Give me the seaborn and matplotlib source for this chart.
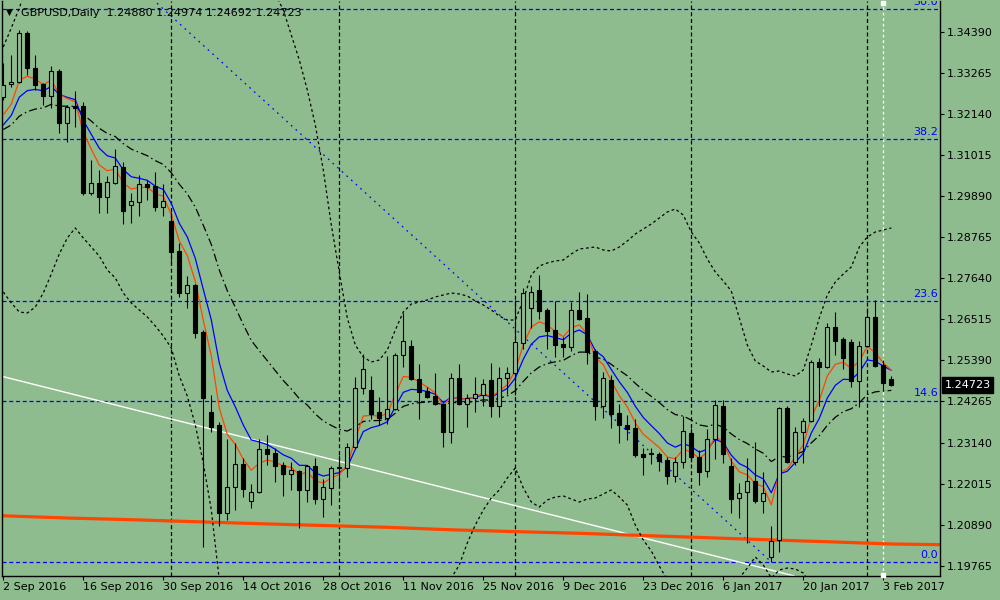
import numpy as np
import pandas as pd
import matplotlib
matplotlib.use("Agg")
import matplotlib.pyplot as plt
import seaborn as sns
from matplotlib.transforms import blended_transform_factory

# ---------------- data (GBPUSD daily, 2 Sep 2016 .. 6 Feb 2017) ----------------
opens = [1.32620, 1.32977, 1.33032, 1.34376, 1.33416, 1.32977, 1.32648, 1.33334, 1.31907, 1.32373,
         1.32373, 1.29986, 1.30261, 1.29876, 1.30261, 1.30700, 1.29657, 1.29739, 1.30233, 1.30178,
         1.29602, 1.29218, 1.28395, 1.27242, 1.27462, 1.26172, 1.23977, 1.23620, 1.21206, 1.21919,
         1.22550, 1.21535, 1.21782, 1.22962, 1.22852, 1.22523, 1.22276, 1.22358, 1.21837, 1.22495,
         1.21590, 1.21892, 1.22440, 1.22440, 1.23017, 1.24635, 1.24581, 1.23977, 1.23812, 1.24059,
         1.25541, 1.25788, 1.24882, 1.24553, 1.24416, 1.24196, 1.23428, 1.24910, 1.24196, 1.24361,
         1.24443, 1.24855, 1.24142, 1.24910, 1.25047, 1.25870, 1.26831, 1.27325, 1.26776, 1.26227,
         1.25843, 1.25760, 1.26776, 1.26556, 1.25651, 1.24142, 1.24855, 1.23950, 1.23620, 1.23538,
         1.22824, 1.22852, 1.22824, 1.22660, 1.22221, 1.22605, 1.23401, 1.22742, 1.22358, 1.23236,
         1.24142, 1.22495, 1.21617, 1.21782, 1.22084, 1.21535, 1.19998, 1.20465, 1.24087, 1.22605,
         1.23428, 1.23730, 1.25349, 1.25212, 1.26309, 1.25980, 1.25898, 1.24828, 1.25788, 1.26584,
         1.25267, 1.24880]
highs = [1.33553, 1.33773, 1.34459, 1.34431, 1.33773, 1.33005, 1.33471, 1.33389, 1.32401, 1.32785,
         1.32483, 1.30892, 1.30617, 1.30453, 1.31194, 1.30837, 1.29986, 1.30480, 1.30343, 1.30562,
         1.30233, 1.29465, 1.28614, 1.27709, 1.27489, 1.26227, 1.24443, 1.23703, 1.23236, 1.23126,
         1.22715, 1.22001, 1.23236, 1.23346, 1.22989, 1.22605, 1.22605, 1.22385, 1.22523, 1.22715,
         1.22139, 1.22495, 1.22797, 1.23126, 1.24937, 1.25568, 1.24965, 1.24389, 1.25514, 1.25596,
         1.26693, 1.25953, 1.25294, 1.24663, 1.25047, 1.24224, 1.25047, 1.25294, 1.24471, 1.24937,
         1.24882, 1.25321, 1.25212, 1.25212, 1.27050, 1.27379, 1.27434, 1.27736, 1.26831, 1.27023,
         1.26035, 1.26995, 1.27270, 1.27215, 1.25706, 1.25075, 1.24992, 1.24196, 1.23895, 1.23785,
         1.22989, 1.22989, 1.22879, 1.22742, 1.22742, 1.23867, 1.23538, 1.22934, 1.23511, 1.24306,
         1.24306, 1.22715, 1.22029, 1.22715, 1.23154, 1.22331, 1.20849, 1.24114, 1.24142, 1.23565,
         1.23812, 1.25404, 1.25459, 1.26419, 1.26721, 1.26035, 1.25980, 1.25925, 1.26831, 1.27050,
         1.25404, 1.24974]
lows = [1.32538, 1.32895, 1.33005, 1.33224, 1.32812, 1.32401, 1.32318, 1.31632, 1.31386, 1.31797,
        1.29931, 1.29931, 1.29437, 1.29437, 1.30233, 1.29136, 1.29163, 1.29355, 1.29794, 1.29492,
        1.29355, 1.28066, 1.27133, 1.26831, 1.26007, 1.20273, 1.23428, 1.20849, 1.21014, 1.21288,
        1.21645, 1.21343, 1.21754, 1.22523, 1.22056, 1.21672, 1.21837, 1.20794, 1.21507, 1.21453,
        1.21096, 1.21425, 1.21974, 1.22194, 1.22989, 1.24471, 1.23785, 1.23620, 1.23648, 1.24032,
        1.25212, 1.24855, 1.23785, 1.24361, 1.24169, 1.23017, 1.23126, 1.24169, 1.23565, 1.23977,
        1.24142, 1.23840, 1.23840, 1.24471, 1.24443, 1.25706, 1.26282, 1.26529, 1.25706, 1.25486,
        1.25486, 1.25651, 1.26501, 1.25294, 1.23757, 1.23812, 1.23538, 1.23126, 1.23209, 1.22742,
        1.22248, 1.22550, 1.22358, 1.22001, 1.22056, 1.22440, 1.22605, 1.21974, 1.22194, 1.22687,
        1.22578, 1.21206, 1.21068, 1.20382, 1.21480, 1.21206, 1.19861, 1.20136, 1.22578, 1.22523,
        1.22578, 1.23703, 1.24142, 1.25184, 1.25541, 1.25157, 1.24663, 1.24114, 1.25760, 1.25212,
        1.24581, 1.24692]
closes = [1.32950, 1.33032, 1.34376, 1.33416, 1.32950, 1.32648, 1.33334, 1.31907, 1.32346, 1.32318,
          1.29986, 1.30261, 1.29876, 1.30288, 1.30727, 1.29492, 1.29767, 1.30233, 1.30151, 1.29602,
          1.29767, 1.28367, 1.27242, 1.27462, 1.26145, 1.24361, 1.23565, 1.21206, 1.21919, 1.22550,
          1.21864, 1.21782, 1.22962, 1.22824, 1.22495, 1.22276, 1.22385, 1.21837, 1.22495, 1.21590,
          1.21919, 1.22440, 1.22468, 1.23017, 1.24635, 1.25157, 1.23922, 1.23812, 1.24059, 1.25541,
          1.25925, 1.24882, 1.24526, 1.24389, 1.24196, 1.23428, 1.24910, 1.24196, 1.24361, 1.24471,
          1.24745, 1.24142, 1.24910, 1.25047, 1.25898, 1.27242, 1.27270, 1.26748, 1.26200, 1.25815,
          1.25760, 1.26776, 1.26529, 1.25623, 1.24142, 1.24910, 1.23922, 1.23620, 1.23511, 1.22797,
          1.22742, 1.22824, 1.22632, 1.22221, 1.22605, 1.23456, 1.22742, 1.22331, 1.23236, 1.24169,
          1.22824, 1.21590, 1.21754, 1.22084, 1.21535, 1.21754, 1.20437, 1.24087, 1.22605, 1.23428,
          1.23730, 1.25349, 1.25212, 1.26309, 1.25925, 1.25459, 1.24828, 1.25788, 1.26584, 1.25239,
          1.24773, 1.24723]

# indicator values before the first visible bar
ema5_seed = 1.31715
ema8_seed = 1.31539
ema20_seed = 1.31600

# 200-day moving average (shifted forward; read at sample bars)
ma200_bars = [0, 8, 16, 24, 32, 40, 48, 56, 64, 72, 80, 88, 96, 104, 111, 117]
ma200_vals = [1.21129, 1.21068, 1.21022, 1.20967, 1.20912, 1.20863, 1.20813, 1.20745,
              1.20695, 1.20649, 1.20588, 1.20528, 1.20467, 1.20410, 1.20355, 1.20338]

# envelope bands (dotted), read at sample bars
upper_bars = [0, 1, 2, 3, 6, 12, 20, 26, 30, 32, 33, 34, 35, 36, 37, 38, 39, 40, 41, 42, 43, 44,
              45, 46, 47, 48, 49, 50, 51, 52, 53, 54, 55, 56, 57, 58, 59, 60, 61, 62, 63, 64, 65,
              66, 67, 68, 69, 70, 71, 72, 73, 74, 75, 76, 77, 78, 79, 80, 81, 82, 83, 84, 85, 86,
              87, 88, 89, 90, 91, 92, 93, 94, 95, 96, 97, 98, 99, 100, 101, 102, 103, 104, 105,
              106, 107, 108, 109, 110, 111]
upper_vals = [1.33992, 1.34514, 1.35062, 1.35693, 1.36928, 1.38575, 1.39672, 1.39672, 1.37751,
              1.36517, 1.35968, 1.35446, 1.35007, 1.34321, 1.33636, 1.32812, 1.31852, 1.30617,
              1.29108, 1.27818, 1.26556, 1.25815, 1.25486, 1.25349, 1.25404, 1.25678, 1.26227,
              1.26721, 1.26940, 1.26995, 1.27050, 1.27133, 1.27187, 1.27242, 1.27215, 1.27160,
              1.27023, 1.26913, 1.26776, 1.26611, 1.26501, 1.26501, 1.27050, 1.27736, 1.27983,
              1.28066, 1.28121, 1.28148, 1.28313, 1.28450, 1.28477, 1.28504, 1.28422, 1.28395,
              1.28504, 1.28669, 1.28861, 1.28998, 1.29136, 1.29300, 1.29465, 1.29547, 1.29382,
              1.28916, 1.28614, 1.28175, 1.27818, 1.27571, 1.27297, 1.26556, 1.25815, 1.25376,
              1.25239, 1.25075, 1.25102, 1.25020, 1.24965, 1.25130, 1.25815, 1.26556, 1.27187,
              1.27544, 1.27764, 1.27956, 1.28504, 1.28779, 1.28916, 1.28971, 1.29026]
lower_bars = [0, 1, 2, 3, 4, 5, 6, 7, 8, 9, 10, 11, 12, 13, 14, 15, 16, 17, 18, 19, 20, 21, 22,
              23, 24, 25, 26, 27, 28, 30, 35, 40, 45, 50, 54, 56, 57, 58, 59, 60, 61, 62, 63, 64,
              65, 66, 67, 68, 69, 70, 71, 72, 73, 74, 75, 76, 77, 78, 79, 80, 81, 82, 83, 85, 88,
              90, 92, 93, 94, 95, 96, 97, 98, 99, 100, 101, 103, 106, 111]
lower_vals = [1.27270, 1.26968, 1.26721, 1.26693, 1.26858, 1.27242, 1.27764, 1.28313, 1.28751,
              1.29026, 1.28751, 1.28504, 1.28257, 1.27873, 1.27654, 1.27242, 1.26968, 1.26776,
              1.26584, 1.26337, 1.26062, 1.25733, 1.24965, 1.24416, 1.23620, 1.22578, 1.21288,
              1.19367, 1.18270, 1.17172, 1.16075, 1.16075, 1.16623, 1.17721, 1.18818, 1.19422,
              1.19779, 1.20383, 1.20876, 1.21288, 1.21617, 1.21837, 1.22166, 1.22441, 1.21892,
              1.21507, 1.21370, 1.21562, 1.21645, 1.21672, 1.21590, 1.21507, 1.21590, 1.21617,
              1.21727, 1.21837, 1.21645, 1.21425, 1.20876, 1.20465, 1.20163, 1.19751, 1.19367,
              1.18544, 1.18270, 1.18818, 1.19422, 1.19696, 1.19998, 1.19779, 1.19422, 1.19642,
              1.19696, 1.19669, 1.19559, 1.19230, 1.18270, 1.17721, 1.17721]

# Fibonacci retracement (100% = June high, 0% = January low)
fib_high = 1.50209
fib_low = 1.19861
fib_high_bar = -56
fib_low_bar = 96
fib_levels = [0.0, 14.6, 23.6, 38.2, 50.0]

# white trendline (two anchor points)
trend_pts = [(0, 1.24946), (100, 1.19416)]

month_start_bars = [21, 42, 64, 86, 108]
marker_bar = 110

tick_bars = [0, 10, 20, 30, 40, 50, 60, 70, 80, 90, 100, 110]
tick_dates = ["2 Sep 2016", "16 Sep 2016", "30 Sep 2016", "14 Oct 2016", "28 Oct 2016",
              "11 Nov 2016", "25 Nov 2016", "9 Dec 2016", "23 Dec 2016", "6 Jan 2017",
              "20 Jan 2017", "3 Feb 2017"]
y_ticks = [1.19765, 1.20890, 1.22015, 1.23140, 1.24265, 1.25390, 1.26515, 1.27640,
           1.28765, 1.29890, 1.31015, 1.32140, 1.33265, 1.34390]

header = "GBPUSD,Daily  1.24880 1.24974 1.24692 1.24723"
last_price = closes[-1]

# ---------------- styling ----------------
BG = "#8FBC8F"
sns.set_theme(style="white", rc={"axes.facecolor": BG, "figure.facecolor": BG})
plt.rcParams["font.family"] = ["DejaVu Sans"]

fig = plt.figure(figsize=(10, 6), dpi=100)
fig.patch.set_facecolor(BG)
ax = fig.add_axes([0.002, 0.04, 0.938, 0.95833])
ax.set_facecolor(BG)

bars = np.arange(len(closes))


def ema(seed, span):
    s = pd.Series([seed] + closes).ewm(span=span, adjust=False).mean()
    return s.iloc[1:].to_numpy()


ema5 = ema(ema5_seed, 5)
ema8 = ema(ema8_seed, 8)
ema20 = ema(ema20_seed, 20)

LW = 0.9
# Fibonacci level lines
fib_range = fib_high - fib_low
for lvl in fib_levels:
    p = fib_low + fib_range * lvl / 100.0
    ax.axhline(p, color="#0000FF", lw=LW, ls=(0, (3.2, 2.2)), zorder=1)
    ax.text(116.85, p + 0.0006, f"{lvl:.1f}", color="#0000FF", fontsize=8, ha="right",
            va="bottom", clip_on=True, zorder=6)
# Fibonacci diagonal
ax.plot([fib_high_bar, fib_low_bar], [fib_high, fib_low], color="#0000FF", lw=LW,
        ls=(0, (1.4, 3.6)), zorder=1)

# month grid
for b in month_start_bars:
    ax.axvline(b, color="black", lw=LW, ls=(0, (3.2, 2.2)), zorder=1)
ax.axvline(marker_bar, color="white", lw=LW, ls=(0, (2.2, 2.2)), zorder=1)

# white trendline
ax.axline(trend_pts[0], trend_pts[1], color="white", lw=1.0, zorder=2)

# 200 MA
sns.lineplot(x=ma200_bars, y=ma200_vals, ax=ax, color="#FF4500", lw=2.3, zorder=2)
# bands
sns.lineplot(x=upper_bars, y=upper_vals, ax=ax, color="black", lw=LW,
             linestyle=(0, (2.2, 2.2)), zorder=2)
sns.lineplot(x=lower_bars, y=lower_vals, ax=ax, color="black", lw=LW,
             linestyle=(0, (2.2, 2.2)), zorder=2)
# EMA 20 dash-dot
sns.lineplot(x=bars, y=ema20, ax=ax, color="black", lw=LW,
             linestyle=(0, (6.5, 2.6, 1.2, 2.6)), zorder=2)
# fast EMAs
sns.lineplot(x=bars, y=ema8, ax=ax, color="#0000FF", lw=LW, zorder=2.5)
sns.lineplot(x=bars, y=ema5, ax=ax, color="#FF4500", lw=LW, zorder=2.6)

# candles
o = np.array(opens)
c = np.array(closes)
h = np.array(highs)
l = np.array(lows)
up = c >= o
ax.vlines(bars, l, h, color="black", lw=0.8, zorder=3)
body_low = np.minimum(o, c)
body_h = np.maximum(np.abs(c - o), 0.00002)
faces = [BG if u else "black" for u in up]
ax.bar(bars, body_h, bottom=body_low, width=0.5, color=faces, edgecolor="black",
       linewidth=0.8, zorder=4)

# axes
ax.set_xlim(-0.1625, 117.0875)
ax.set_ylim(1.19477, 1.35254)
ax.set_xlabel("")
ax.set_ylabel("")
ax.yaxis.tick_right()
ax.set_yticks(y_ticks)
ax.set_yticklabels([f"{v:.5f}" for v in y_ticks])
ax.set_xticks(tick_bars)
ax.set_xticklabels(tick_dates, ha="left")
ax.tick_params(axis="y", which="both", direction="out", length=3, width=0.8, pad=2,
               labelsize=8, colors="black", right=True, left=False)
ax.tick_params(axis="x", which="both", direction="out", length=3, width=0.8, pad=1.5,
               labelsize=8, colors="black", bottom=True)
for side in ["left", "bottom", "right"]:
    ax.spines[side].set_visible(True)
    ax.spines[side].set_color("black")
    ax.spines[side].set_linewidth(1.0)
ax.spines["top"].set_visible(False)
ax.grid(False)

# current price label
trans = blended_transform_factory(ax.transAxes, ax.transData)
ax.text(1.0047, last_price, f"{last_price:.5f}", transform=trans, color="white",
        fontsize=8, ha="left", va="center", zorder=7, clip_on=False,
        bbox=dict(boxstyle="square,pad=0.25", fc="black", ec="black"))

# small white markers on the vertical line
ax.plot([marker_bar], [1.3520], marker="s", ms=3, color="white", clip_on=False, zorder=6)
ax.plot([marker_bar], [1.1950], marker="s", ms=3, color="white", clip_on=False, zorder=6)

# header
fig.text(0.0062, 1 - 12.5 / 600, "\u25BC", fontsize=6.5, color="black", va="center",
         ha="left", zorder=8)
fig.text(0.021, 1 - 12.5 / 600, header, fontsize=8, color="black", va="center",
         ha="left", zorder=8)

fig.savefig("out.png", dpi=100, facecolor=BG)
